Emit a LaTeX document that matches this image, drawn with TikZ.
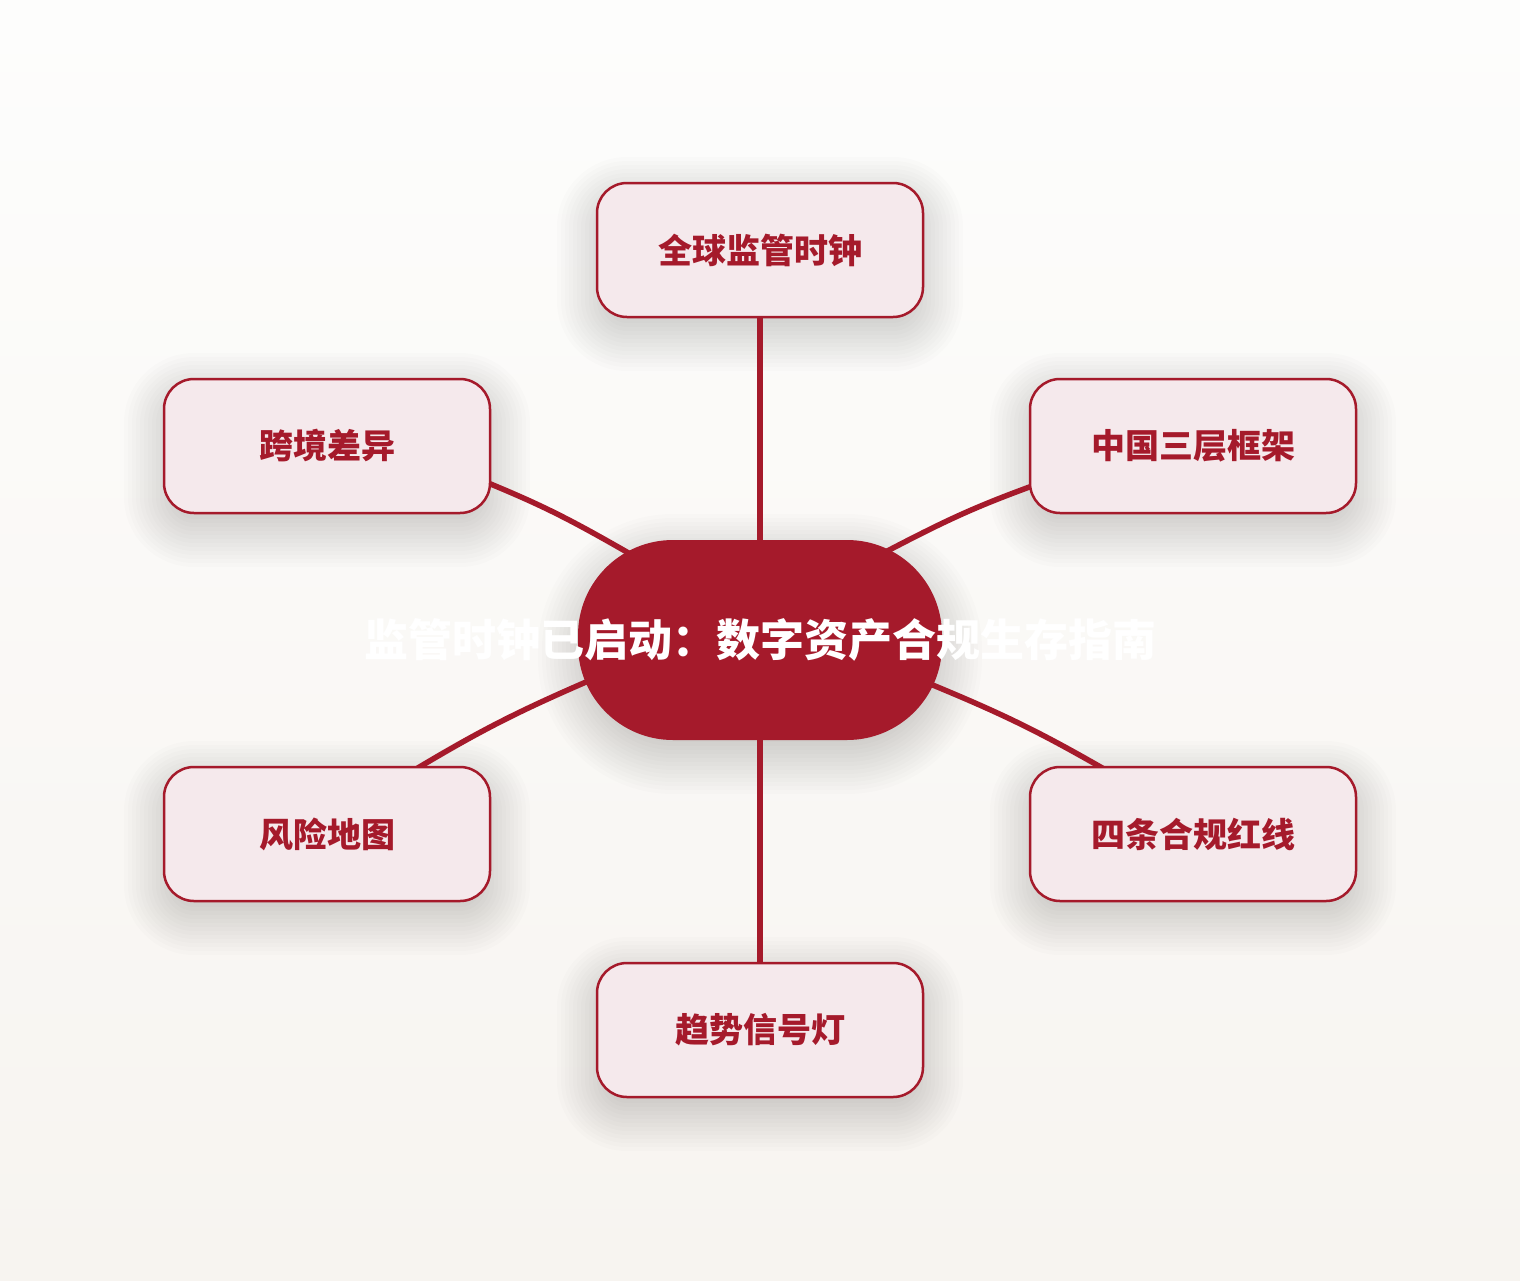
\documentclass[tikz,border=0pt]{standalone}
\usepackage{fontspec}
\newfontfamily\cjk{Noto Sans CJK SC}
\usetikzlibrary{positioning}
\definecolor{deepred}{HTML}{A51A2B}
\definecolor{palepink}{HTML}{F5E9EC}
\definecolor{paper top}{HTML}{FDFDFC}
\definecolor{paper bottom}{HTML}{F7F4F0}
\pgfdeclarelayer{paper}
\pgfdeclarelayer{shade}
\pgfdeclarelayer{wires}
\pgfsetlayers{paper,shade,wires,main}
\def\dx{88pt}
\def\dy{27pt}
\tikzstyle{hub}=[fill=deepred,rounded corners=95pt,minimum width=364pt,minimum height=200pt,
  inner sep=0pt,outer sep=0pt,text=white,font=\cjk\bfseries\fontsize{44pt}{50pt}\selectfont]
\tikzstyle{topic}=[draw=deepred,fill=palepink,line width=2.5pt,rounded corners=30pt,outer sep=0pt,
  minimum width=326pt,minimum height=134pt,text=deepred,font=\cjk\bfseries\fontsize{34pt}{40pt}\selectfont]
\tikzstyle{link}=[draw=deepred,line width=5.5pt,shorten <=-30pt,shorten >=-30pt]
\newcommand{\newTopic}[3]{\node[topic,#3](#1){#2};}
\newcommand{\newLink}[3]{\path[link] (#1) edge [#3] (#2);}
% soft shadow: stacked rounded boxes under node #1, base corner radius #2
\newcommand{\newShadow}[2]{\foreach \r [evaluate=\r as \rc using #2+\r] in {-12,-8,...,40}
  \fill[black,opacity=.013,rounded corners=\rc pt]
    ([xshift=-\r pt,yshift=\r pt-14pt]#1.north west) rectangle ([xshift=\r pt,yshift=-\r pt-14pt]#1.south east);}

\begin{document}
\begin{tikzpicture}[x=1pt,y=-1pt,node distance=223pt]
    \begin{pgfonlayer}{paper}
      \shade[top color=paper top,bottom color=paper bottom] (0,0) rectangle (1520,1280);
    \end{pgfonlayer}
    \node[hub] (c) at (760,640) {\makebox[0pt]{监管时钟已启动：数字资产合规生存指南}};
    \newTopic{t}{全球监管时钟}{above=of c}
    \newTopic{b}{趋势信号灯}{below=of c}
    \newTopic{ul}{跨境差异}{above left=\dy and \dx of c}
    \newTopic{ur}{中国三层框架}{above right=\dy and \dx of c}
    \newTopic{ll}{风险地图}{below left=\dy and \dx of c}
    \newTopic{lr}{四条合规红线}{below right=\dy and \dx of c}
    \begin{pgfonlayer}{shade}
      \newShadow{c}{95}
      \foreach \n in {t,b,ul,ur,ll,lr} {\newShadow{\n}{30}}
    \end{pgfonlayer}
    \begin{pgfonlayer}{wires}
      \newLink{t.south}{c.north}{}
      \newLink{c.south}{b.north}{}
      \newLink{ul.-13}{c.147}{bend left=4}
      \newLink{ur.194}{c.34}{bend right=4}
      \newLink{c.194}{ll.36}{bend right=4}
      \newLink{c.-15}{lr.144}{bend left=4}
    \end{pgfonlayer}
  \end{tikzpicture}
\end{document}
